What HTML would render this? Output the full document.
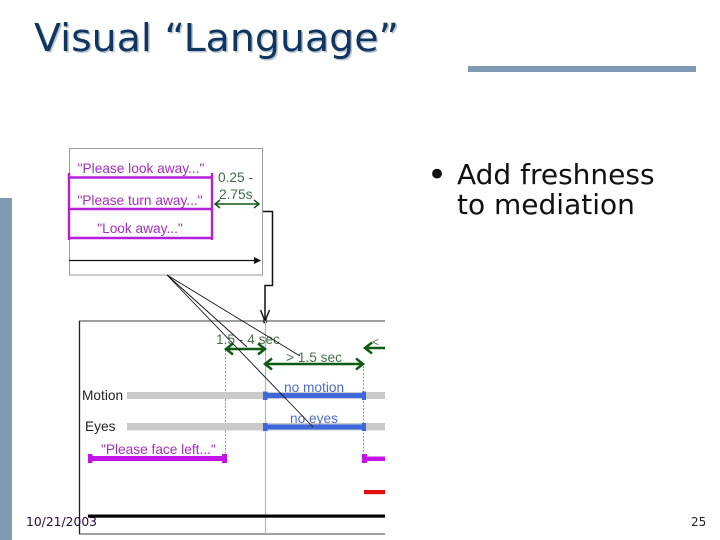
<!DOCTYPE html>
<html><head><meta charset="utf-8"><style>html,body{margin:0;padding:0;background:#fff}svg{display:block}</style></head><body>
<svg width="720" height="540" viewBox="0 0 720 540" xmlns="http://www.w3.org/2000/svg">
<rect x="0" y="198" width="12" height="342" fill="#819ab4"/>
<rect x="468" y="66" width="228" height="6" fill="#819ab4"/>
<g font-family="'DejaVu Sans',sans-serif">
<text x="35.500" y="52.500" font-size="38" fill="#b8c4d2" textLength="365" lengthAdjust="spacingAndGlyphs">Visual “Language”</text>
<text x="34" y="51" font-size="38" fill="#0f3560" textLength="365" lengthAdjust="spacingAndGlyphs">Visual “Language”</text>
<text x="427" y="186" font-size="34" fill="#111">•</text>
<text x="457" y="184" font-size="28" fill="#111">Add freshness</text>
<text x="457" y="214" font-size="28" fill="#111">to mediation</text>
</g>
<!-- top box -->
<rect x="69.500" y="148.500" width="193" height="126.500" fill="#fff" stroke="#999" stroke-width="1"/>
<g font-family="'Liberation Sans',sans-serif" font-size="13.700">
<text x="141" y="173" fill="#a82cc0" text-anchor="middle">"Please look away..."</text>
<text x="140" y="205" fill="#a82cc0" text-anchor="middle">"Please turn away..."</text>
<text x="140" y="233" fill="#a82cc0" text-anchor="middle">"Look away..."</text>
<text x="218" y="182" fill="#3f6b45">0.25 -</text>
<text x="219" y="199" fill="#3f6b45">2.75s</text>
</g>
<g stroke="#b51fd8" stroke-width="2.400" fill="none">
<path d="M69 177.500H212M69 209H212M69 238H212"/>
<path d="M69 173V240M212 173V240"/>
</g>
<g stroke="#0f5a14" stroke-width="1.500" fill="none">
<path d="M215 204H259M220 200L215 204L220 208M254 200L259 204L254 208"/>
</g>
<path d="M69 260.500H260" stroke="#111" stroke-width="1.200"/>
<path d="M261 260.500L254 257V264Z" fill="#111"/>
<!-- connector -->
<path d="M263 211.500H272.500V285.500H265V321" stroke="#111" stroke-width="1.500" fill="none"/>
<path d="M260.500 310L265 321L269.500 310" stroke="#111" stroke-width="1.400" fill="none"/>
<circle cx="265" cy="321" r="2.300" fill="#111"/>
<!-- lower panel -->
<path d="M385 321H79.500V534H385" fill="none" stroke="#666" stroke-width="1.200"/>
<path d="M79.500 321V534" stroke="#222" stroke-width="1.200"/>
<path d="M265.500 321V534" stroke="#b5b5b5" stroke-width="1.200"/>
<path d="M225.500 350V458M363.500 366V458" stroke="#999" stroke-width="1" stroke-dasharray="2 1.500"/>
<rect x="127" y="392" width="258" height="7" fill="#cacaca"/>
<rect x="127" y="423" width="258" height="7.500" fill="#cacaca"/>
<g fill="#3f67dc">
<rect x="264" y="393" width="100" height="5"/><rect x="263" y="391.500" width="4.500" height="8.500"/><rect x="362" y="391.500" width="4" height="8.500"/>
<rect x="264" y="424.500" width="100" height="5"/><rect x="263" y="423" width="4.500" height="8"/><rect x="362" y="423" width="4" height="8"/>
</g>
<g fill="#c313e6">
<rect x="89" y="456" width="136" height="5"/><rect x="88" y="454" width="4.500" height="9"/><rect x="222" y="454" width="5" height="9"/>
<rect x="364" y="456.500" width="21" height="4.500"/><rect x="362" y="454" width="5" height="9"/>
</g>
<rect x="364" y="490" width="21" height="4.200" fill="#e01010"/>
<rect x="88" y="514.500" width="297" height="3.200" fill="#000"/>
<g stroke="#0f5a14" stroke-width="2.500" fill="none">
<path d="M226 349H265M233 343.500L226 349L233 354.500M258 343.500L265 349L258 354.500"/>
<path d="M265 364H363M272 358.500L265 364L272 369.500M356 358.500L363 364L356 369.500"/>
<path d="M385 348H365M372 342.500L365 348L372 353.500"/>
</g>
<g font-family="'Liberation Sans',sans-serif" font-size="13.700">
<text x="216" y="344" fill="#4a7250">1.5 - 4 sec</text>
<text x="286" y="362" fill="#4a7250">&gt; 1.5 sec</text>
<text x="372" y="346" fill="#4a7250" font-size="12">&lt;</text>
<text x="284" y="392" fill="#4c6bd0">no motion</text>
<text x="290" y="423" fill="#4c6bd0">no eyes</text>
<text x="82" y="400" fill="#222">Motion</text>
<text x="85" y="431" fill="#222">Eyes</text>
<text x="101" y="454" fill="#a82cc0">"Please face left..."</text>
</g>
<g stroke="#111" stroke-width="0.900" fill="none">
<path d="M167 275L313 427"/>
<path d="M167 275L247 347"/>
<path d="M167 275L300 356"/>
</g>
<g font-family="'DejaVu Sans',sans-serif" font-size="12" fill="#2a0a3a">
<text x="26" y="526" textLength="71" lengthAdjust="spacingAndGlyphs">10/21/2003</text>
<text x="691" y="526" fill="#222">25</text>
</g>
</svg>
</body></html>
